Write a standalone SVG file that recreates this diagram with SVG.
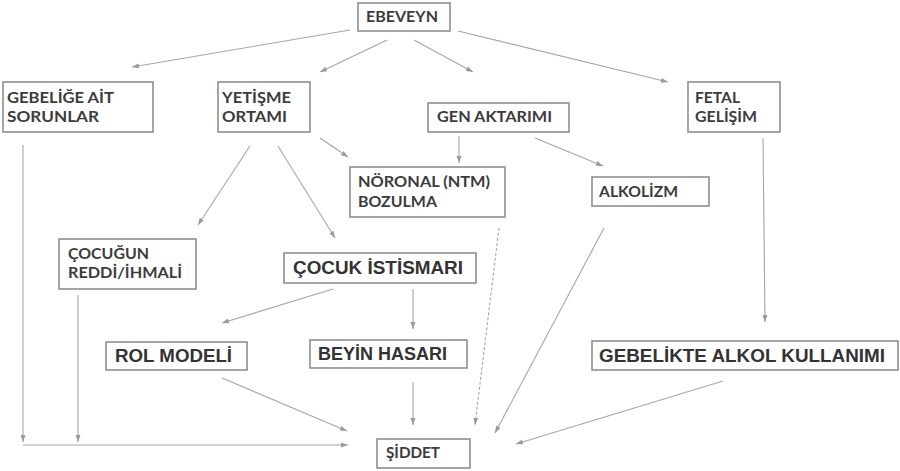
<svg xmlns="http://www.w3.org/2000/svg" width="900" height="471" viewBox="0 0 900 471">
<defs>
<marker id="ah" markerUnits="userSpaceOnUse" markerWidth="7" markerHeight="6" refX="7" refY="3" orient="auto">
<path d="M0,0.5 L7,3 L0,5.5 z" fill="#9a9a9a"/>
</marker>
<style>
.box{fill:#fff;stroke:#8f8f8f;stroke-width:1.6}
.t1{font-family:Lato,"Open Sans","Liberation Sans",sans-serif;font-weight:bold;font-size:15.5px;fill:#3c3c3c}
.t2{font-family:"Liberation Sans",Arial,sans-serif;font-weight:bold;font-size:19px;fill:#333}
.c{stroke:#a6a6a6;stroke-width:1.1;fill:none;marker-end:url(#ah)}
.d{stroke-dasharray:3 2}
</style>
</defs>
<rect width="900" height="471" fill="#fff"/>
<g id="connectors">
<line class="c" x1="350" y1="30" x2="132" y2="67"/>
<line class="c" x1="387" y1="40" x2="320" y2="72"/>
<line class="c" x1="414" y1="40" x2="473" y2="72"/>
<line class="c" x1="458" y1="31" x2="668" y2="82"/>
<line class="c" x1="320" y1="138" x2="348" y2="157"/>
<line class="c" x1="250" y1="146" x2="198" y2="225"/>
<line class="c" x1="278" y1="146" x2="335" y2="238"/>
<line class="c" x1="459" y1="136" x2="459" y2="163"/>
<line class="c" x1="535" y1="138" x2="603" y2="166"/>
<line class="c" x1="763" y1="138" x2="765" y2="322"/>
<line class="c" x1="333" y1="289" x2="222" y2="323"/>
<line class="c" x1="413" y1="289" x2="413" y2="329"/>
<line class="c" x1="222" y1="378" x2="347" y2="431"/>
<line class="c" x1="413" y1="382" x2="413" y2="425"/>
<line class="c d" x1="499" y1="228" x2="475" y2="425"/>
<line class="c" x1="604" y1="228" x2="495" y2="433"/>
<line class="c" x1="723" y1="381" x2="516" y2="444"/>
<line class="c" x1="23" y1="145" x2="23" y2="442"/>
<line class="c" x1="78" y1="295" x2="78" y2="442"/>
<line class="c" x1="23" y1="445" x2="348" y2="445"/>
</g>
<g id="ebeveyn"><rect class="box" x="358" y="3" width="92" height="28"/><text class="t1" x="366" y="22" textLength="72" lengthAdjust="spacingAndGlyphs">EBEVEYN</text></g>
<g id="gebelige"><rect class="box" x="3" y="82" width="150" height="50"/><text class="t1" x="7" y="103" textLength="107" lengthAdjust="spacingAndGlyphs">GEBELİĞE AİT</text><text class="t1" x="7" y="122" textLength="92" lengthAdjust="spacingAndGlyphs">SORUNLAR</text></g>
<g id="yetisme"><rect class="box" x="218" y="82" width="92" height="50"/><text class="t1" x="222" y="103" textLength="69" lengthAdjust="spacingAndGlyphs">YETİŞME</text><text class="t1" x="222" y="122" textLength="65" lengthAdjust="spacingAndGlyphs">ORTAMI</text></g>
<g id="gen"><rect class="box" x="428" y="103" width="141" height="29"/><text class="t1" x="437" y="122" textLength="115" lengthAdjust="spacingAndGlyphs">GEN AKTARIMI</text></g>
<g id="fetal"><rect class="box" x="688" y="82" width="92" height="50"/><text class="t1" x="695" y="103" textLength="45" lengthAdjust="spacingAndGlyphs">FETAL</text><text class="t1" x="695" y="122" textLength="62" lengthAdjust="spacingAndGlyphs">GELİŞİM</text></g>
<g id="noronal"><rect class="box" x="350" y="167" width="155" height="50"/><text class="t1" x="358" y="187" textLength="132" lengthAdjust="spacingAndGlyphs">NÖRONAL (NTM)</text><text class="t1" x="358" y="207" textLength="79" lengthAdjust="spacingAndGlyphs">BOZULMA</text></g>
<g id="alkolizm"><rect class="box" x="592" y="177" width="117" height="29"/><text class="t1" x="599" y="197" textLength="79" lengthAdjust="spacingAndGlyphs">ALKOLİZM</text></g>
<g id="cocugun"><rect class="box" x="59" y="239" width="137" height="50"/><text class="t1" x="68" y="259" textLength="81" lengthAdjust="spacingAndGlyphs">ÇOCUĞUN</text><text class="t1" x="68" y="278" textLength="114" lengthAdjust="spacingAndGlyphs">REDDİ/İHMALİ</text></g>
<g id="istismar"><rect class="box" x="284" y="253" width="192" height="30"/><text class="t2" x="293" y="274" textLength="170" lengthAdjust="spacingAndGlyphs">ÇOCUK İSTİSMARI</text></g>
<g id="rol"><rect class="box" x="106" y="342" width="141" height="28"/><text class="t2" x="115" y="362" textLength="117" lengthAdjust="spacingAndGlyphs">ROL MODELİ</text></g>
<g id="beyin"><rect class="box" x="310" y="340" width="157" height="28"/><text class="t2" x="318" y="360" textLength="129" lengthAdjust="spacingAndGlyphs">BEYİN HASARI</text></g>
<g id="gebelikte"><rect class="box" x="592" y="341" width="306" height="29"/><text class="t2" x="599" y="362" textLength="286" lengthAdjust="spacingAndGlyphs">GEBELİKTE ALKOL KULLANIMI</text></g>
<g id="siddet"><rect class="box" x="377" y="439" width="93" height="29"/><text class="t1" x="386" y="458" textLength="54" lengthAdjust="spacingAndGlyphs">ŞİDDET</text></g>
</svg>
